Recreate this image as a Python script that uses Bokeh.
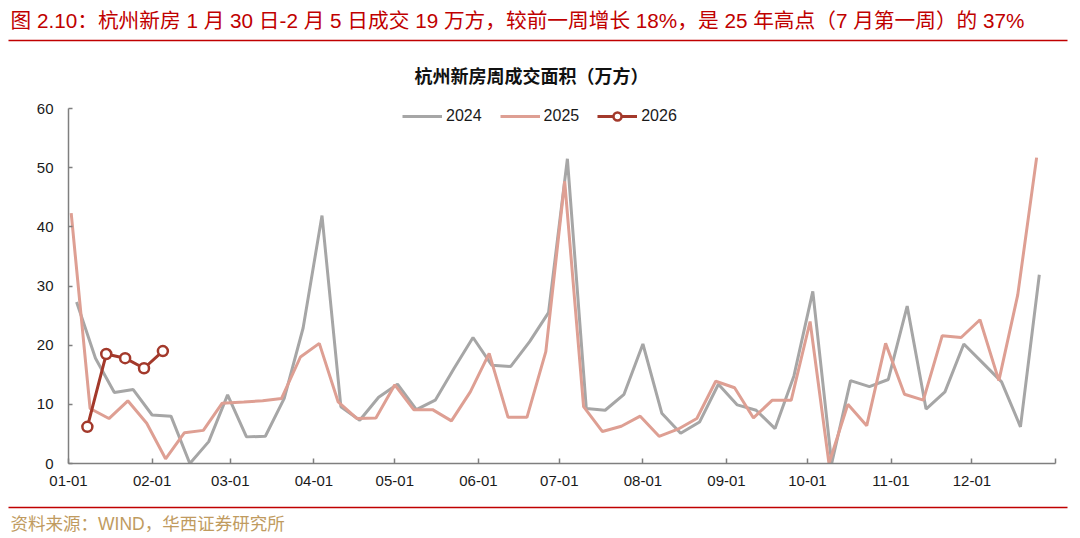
from datetime import date, timedelta
from bokeh.plotting import figure
from bokeh.layouts import column
from bokeh.models import Range1d, FixedTicker, Legend, LegendItem, Label
from bokeh.embed import file_html
from bokeh.resources import INLINE

# ---------------- data ----------------
series_names = ["2024", "2025", "2026"]
first_week_end = {"2024": date(2024, 1, 4), "2025": date(2025, 1, 2), "2026": date(2026, 1, 8)}

values_2024 = [27.3, 17.8, 12.0, 12.5, 8.2, 8.0, 0.0, 3.7, 11.6, 4.5, 4.6, 11.0, 22.9,
               41.9, 9.6, 7.3, 11.2, 13.4, 9.1, 10.7, 16.1, 21.3, 16.6, 16.4, 20.6, 25.5,
               51.5, 9.3, 9.0, 11.7, 20.2, 8.5, 5.1, 7.0, 13.4, 9.9, 9.0, 5.9, 14.8,
               29.1, 0.0, 14.0, 13.0, 14.2, 26.6, 9.2, 12.1, 20.2, 17.0, 13.8, 6.2, 31.9]
values_2025 = [42.3, 9.3, 7.6, 10.6, 6.8, 0.8, 5.2, 5.6, 10.2, 10.4, 10.6, 11.0, 18.0,
               20.3, 10.4, 7.6, 7.7, 13.3, 9.1, 9.1, 7.2, 12.1, 18.6, 7.8, 7.8, 18.9,
               47.7, 9.6, 5.4, 6.3, 8.0, 4.6, 5.8, 7.6, 13.9, 12.8, 7.7, 10.7, 10.7,
               24.0, 0.0, 10.0, 6.4, 20.3, 11.7, 10.7, 21.6, 21.3, 24.3, 14.0, 28.5, 51.7]
values_2026 = [6.2, 18.5, 17.8, 16.1, 19.0]

tick_labels = ["01-01", "02-01", "03-01", "04-01", "05-01", "06-01", "07-01",
               "08-01", "09-01", "10-01", "11-01", "12-01", ""]
y_ticks = [0, 10, 20, 30, 40, 50, 60]

title_text = "图 2.10：杭州新房 1 月 30 日-2 月 5 日成交 19 万方，较前一周增长 18%，是 25 年高点（7 月第一周）的 37%"
chart_title = "杭州新房周成交面积（万方）"
source_text = "资料来源：WIND，华西证券研究所"

# ---------------- helpers ----------------
BASE = date(2024, 1, 1)


def week_ends(start, n):
    return [start + timedelta(days=7 * i) for i in range(n)]


def axis_day(d):
    # place every year on a common month-day axis (2024 calendar)
    return (date(2024, d.month, d.day) - BASE).days


month_starts = [date(2024, m, 1) for m in range(1, 13)] + [date(2025, 1, 1)]
tick_pos = [(d - BASE).days for d in month_starts]

x2024 = [axis_day(d) for d in week_ends(first_week_end["2024"], len(values_2024))]
x2025 = [axis_day(d) for d in week_ends(first_week_end["2025"], len(values_2025))]
x2026 = [axis_day(d) for d in week_ends(first_week_end["2026"], len(values_2026))]

FONT = "Liberation Sans, Noto Sans CJK SC"
RED = "#C00000"
C2024 = "#A6A6A6"
C2025 = "#DE9F93"
C2026 = "#A3392B"
AXIS = "#7F7F7F"


def no_align(fig):
    try:
        fig.frame_align = False
    except Exception:
        pass


# ---------------- header ----------------
head = figure(width=1080, height=96, x_range=Range1d(0, 1080), y_range=Range1d(96, 0),
              x_axis_type=None, y_axis_type=None, toolbar_location=None,
              output_backend="svg", min_border=0, outline_line_color=None)
head.min_border_left = head.min_border_right = head.min_border_top = head.min_border_bottom = 0
no_align(head)
head.add_layout(Label(x=10, y=20, text=title_text, text_baseline="middle", text_align="left",
                      text_font_size="20.7px", text_color=RED, text_font=FONT))
head.segment(x0=[8], y0=[40], x1=[1067], y1=[40], line_color=RED, line_width=1.5)
head.add_layout(Label(x=531, y=76, text=chart_title, text_baseline="middle", text_align="center",
                      text_font_size="18px", text_font_style="bold", text_color="#111111",
                      text_font=FONT))

# ---------------- main chart ----------------
p = figure(width=1080, height=404, x_range=Range1d(0, 366), y_range=Range1d(0, 60),
           toolbar_location=None, output_backend="svg", outline_line_color=None)
p.min_border_left = 68
p.min_border_right = 25
p.min_border_top = 12
p.min_border_bottom = 37
p.grid.visible = False

r24 = p.line(x2024, values_2024, line_color=C2024, line_width=3)
r25 = p.line(x2025, values_2025, line_color=C2025, line_width=3)
r26 = p.line(x2026, values_2026, line_color=C2026, line_width=3)
r26m = p.scatter(x2026, values_2026, size=10, marker="circle", fill_color="white",
                 line_color=C2026, line_width=2.5)

xa = p.xaxis[0]
xa.ticker = FixedTicker(ticks=tick_pos)
xa.major_label_overrides = {pos: lab for pos, lab in zip(tick_pos, tick_labels)}
xa.minor_tick_line_color = None
xa.major_tick_in = 5
xa.major_tick_out = 0
xa.axis_line_color = AXIS
xa.major_tick_line_color = AXIS
xa.axis_line_width = 1.5
xa.major_tick_line_width = 1.5
xa.major_label_text_font = FONT
xa.major_label_text_font_size = "15px"
xa.major_label_text_color = "#1a1a1a"
xa.major_label_standoff = 12

ya = p.yaxis[0]
ya.ticker = FixedTicker(ticks=y_ticks)
ya.minor_tick_line_color = None
ya.major_tick_in = 4
ya.major_tick_out = 0
ya.axis_line_color = AXIS
ya.major_tick_line_color = AXIS
ya.axis_line_width = 1.5
ya.major_tick_line_width = 1.5
ya.major_label_text_font = FONT
ya.major_label_text_font_size = "15px"
ya.major_label_text_color = "#1a1a1a"
ya.major_label_standoff = 15

legend = Legend(items=[LegendItem(label=series_names[0], renderers=[r24]),
                       LegendItem(label=series_names[1], renderers=[r25]),
                       LegendItem(label=series_names[2], renderers=[r26, r26m])],
                orientation="horizontal", location=(334, 337),
                glyph_width=40, glyph_height=20, label_standoff=4, spacing=18,
                padding=0, margin=0, border_line_color=None, background_fill_alpha=0,
                label_text_font=FONT, label_text_font_size="16px", label_text_color="#1a1a1a")
p.add_layout(legend)

# ---------------- footer ----------------
foot = figure(width=1080, height=38, x_range=Range1d(0, 1080), y_range=Range1d(38, 0),
              x_axis_type=None, y_axis_type=None, toolbar_location=None,
              output_backend="svg", min_border=0, outline_line_color=None)
foot.min_border_left = foot.min_border_right = foot.min_border_top = foot.min_border_bottom = 0
no_align(foot)
foot.segment(x0=[8], y0=[7], x1=[1067], y1=[7], line_color=RED, line_width=1.5)
foot.add_layout(Label(x=10, y=23, text=source_text, text_baseline="middle", text_align="left",
                      text_font_size="17.5px", text_color="#C09B5F", text_font=FONT))

layout = column(head, p, foot, spacing=0)
open("out.html", "w").write(file_html(layout, INLINE))
